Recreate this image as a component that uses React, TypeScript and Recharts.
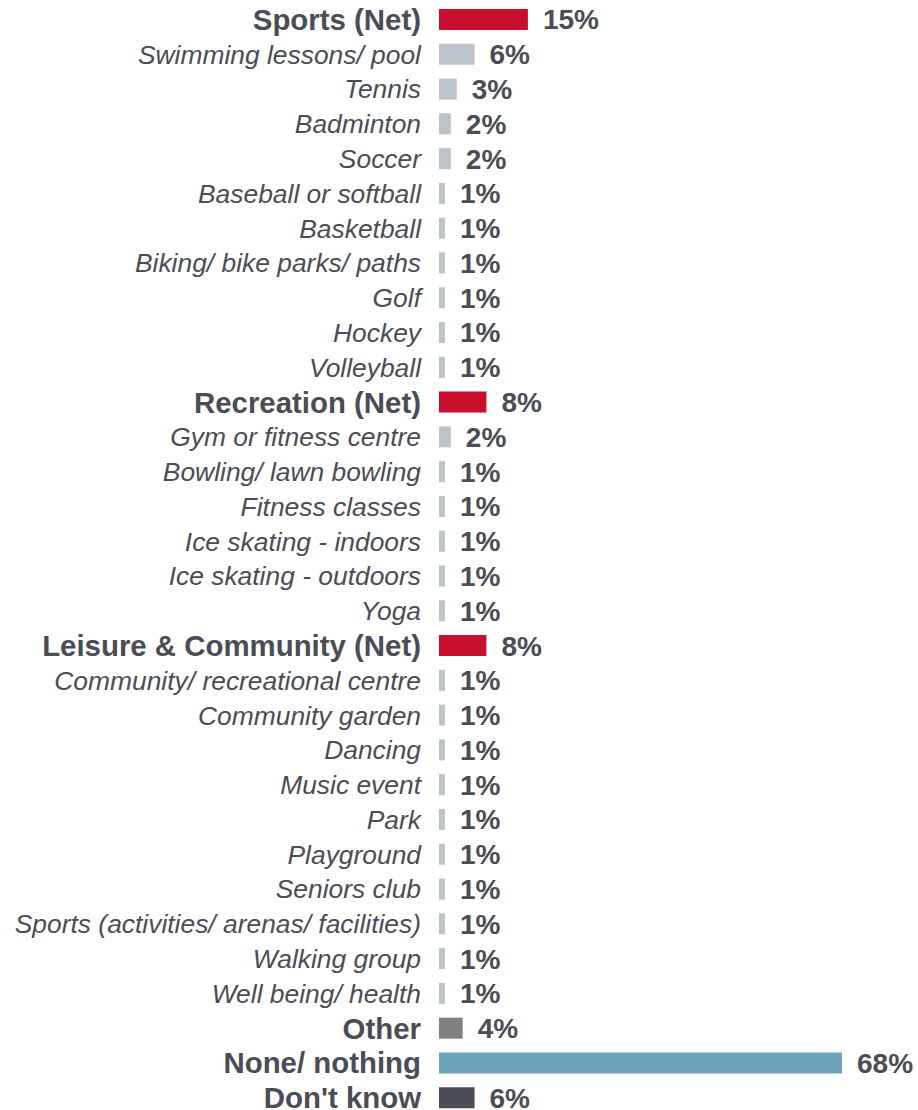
import { BarChart, Bar, XAxis, YAxis, Cell, LabelList } from "recharts";

const categories = [
  "Sports (Net)",
  "Swimming lessons/ pool",
  "Tennis",
  "Badminton",
  "Soccer",
  "Baseball or softball",
  "Basketball",
  "Biking/ bike parks/ paths",
  "Golf",
  "Hockey",
  "Volleyball",
  "Recreation (Net)",
  "Gym or fitness centre",
  "Bowling/ lawn bowling",
  "Fitness classes",
  "Ice skating - indoors",
  "Ice skating - outdoors",
  "Yoga",
  "Leisure & Community (Net)",
  "Community/ recreational centre",
  "Community garden",
  "Dancing",
  "Music event",
  "Park",
  "Playground",
  "Seniors club",
  "Sports (activities/ arenas/ facilities)",
  "Walking group",
  "Well being/ health",
  "Other",
  "None/ nothing",
  "Don't know",
];

// share, %
const values = [
  15, 6, 3, 2, 2, 1, 1, 1, 1, 1, 1,
  8, 2, 1, 1, 1, 1, 1,
  8, 1, 1, 1, 1, 1, 1, 1, 1, 1, 1,
  4, 68, 6,
];

// row type: net = bold red, item = italic grey, other/none/dk = bold totals
const kinds = [
  "net", "item", "item", "item", "item", "item", "item", "item", "item", "item", "item",
  "net", "item", "item", "item", "item", "item", "item",
  "net", "item", "item", "item", "item", "item", "item", "item", "item", "item", "item",
  "other", "none", "dk",
];

const colors: Record<string, string> = {
  net: "#C8102E",
  item: "#BCC3CA",
  other: "#808080",
  none: "#6CA5BA",
  dk: "#4A4D55",
};

const data = categories.map((name, i) => ({ name, value: values[i], kind: kinds[i] }));

const textColor = "#4A4D55";
const font = "'Liberation Sans', Arial, sans-serif";

function CategoryTick(props: any) {
  const { x, y, payload } = props;
  const kind = kinds[payload.index];
  const bold = kind !== "item";
  return (
    <text
      x={x}
      y={y}
      dy="0.36em"
      textAnchor="end"
      fill={textColor}
      fontFamily={font}
      fontSize={bold ? 29.4 : 26.4}
      fontWeight={bold ? "bold" : "normal"}
      fontStyle={bold ? "normal" : "italic"}
    >
      {payload.value}
    </text>
  );
}

export default function App() {
  return (
    <div style={{ width: 918, height: 1110, overflow: "hidden" }}>
      <style>{`body { margin: 0; }`}</style>
      <BarChart
        width={918}
        height={1115}
        data={data}
        layout="vertical"
        margin={{ top: 2, right: 76, bottom: 0, left: 0 }}
      >
        <XAxis type="number" domain={[0, 68]} hide />
        <YAxis
          type="category"
          dataKey="name"
          width={439}
          axisLine={false}
          tickLine={false}
          tickSize={0}
          tickMargin={18}
          interval={0}
          tick={<CategoryTick />}
        />
        <Bar dataKey="value" barSize={21} isAnimationActive={false}>
          {data.map((d, i) => (
            <Cell key={`cell-${i}`} fill={colors[d.kind]} />
          ))}
          <LabelList
            dataKey="value"
            position="right"
            offset={15}
            formatter={(v: any) => `${v}%`}
            fill={textColor}
            fontFamily={font}
            fontSize={28}
            fontWeight="bold"
          />
        </Bar>
      </BarChart>
    </div>
  );
}
